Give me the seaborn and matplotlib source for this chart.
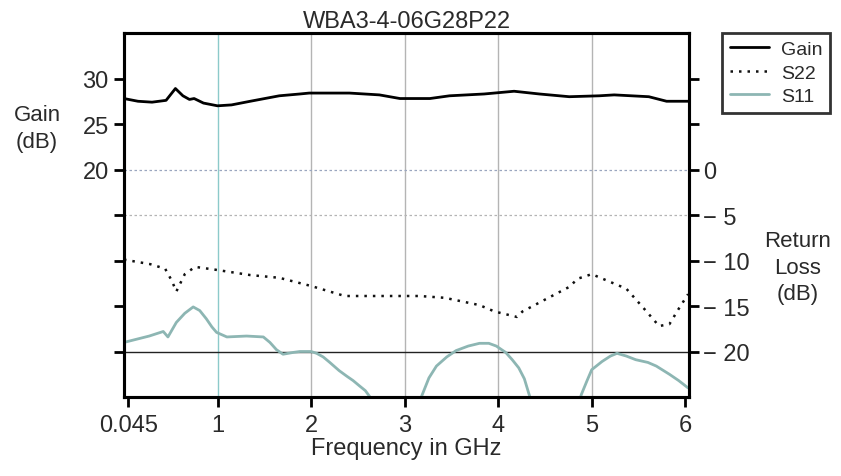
import numpy as np
import pandas as pd
import matplotlib
matplotlib.use("Agg")
import matplotlib.pyplot as plt
import seaborn as sns

# values
gain_freq = [0.0, 0.15, 0.3, 0.45, 0.55, 0.63, 0.7, 0.75, 0.85, 1.0, 1.15, 1.35, 1.66, 1.88,
             1.98, 2.41, 2.73, 2.95, 3.27, 3.48, 3.85, 4.17, 4.44, 4.76, 5.08, 5.24, 5.61,
             5.8, 6.03]
gain_db = [27.8, 27.5, 27.4, 27.6, 28.9, 28.1, 27.7, 27.8, 27.3, 27.0, 27.1, 27.5, 28.1, 28.3,
           28.4, 28.4, 28.2, 27.8, 27.8, 28.1, 28.3, 28.6, 28.3, 28.0, 28.1, 28.2, 28.0,
           27.5, 27.5]

s22_freq = [0.0, 0.28, 0.44, 0.51, 0.56, 0.65, 0.76, 0.97, 1.35, 1.66, 2.0, 2.36, 2.73, 3.16,
            3.43, 3.8, 3.96, 4.2, 4.26, 4.5, 4.76, 4.85, 5.0, 5.37, 5.56, 5.72, 5.83, 5.93, 6.03]
s22_db = [-9.9, -10.4, -10.9, -12.2, -13.4, -11.5, -10.7, -11.0, -11.6, -11.9, -12.8, -13.9,
          -13.9, -13.9, -14.1, -14.9, -15.6, -16.2, -15.6, -14.3, -12.9, -12.0, -11.5, -13.1,
          -15.3, -17.2, -17.0, -15.3, -13.7]

s11_freq = [0.0, 0.27, 0.42, 0.47, 0.56, 0.65, 0.74, 0.81, 0.88, 0.94, 0.99, 1.1, 1.31, 1.49,
            1.56, 1.63, 1.7, 1.81, 1.88, 2.0, 2.06, 2.13, 2.2, 2.3, 2.38, 2.45, 2.52, 2.58,
            2.63, 2.72, 3.1, 3.19, 3.26, 3.34, 3.45, 3.55, 3.68, 3.8, 3.9, 3.98, 4.08, 4.15,
            4.22, 4.28, 4.33, 4.4, 4.82, 4.89, 4.95, 5.0, 5.11, 5.2, 5.27, 5.37, 5.47, 5.6,
            5.69, 5.83, 5.93, 6.03]
s11_db = [-19.0, -18.3, -17.8, -18.4, -16.8, -15.8, -15.1, -15.5, -16.4, -17.3, -17.9, -18.4,
          -18.3, -18.4, -19.0, -19.8, -20.3, -20.1, -20.0, -20.0, -20.2, -20.6, -21.2, -22.1,
          -22.7, -23.2, -23.8, -24.3, -25.0, -27.0, -27.0, -24.7, -22.9, -21.6, -20.6, -19.9,
          -19.4, -19.1, -19.1, -19.4, -20.1, -20.9, -21.8, -23.0, -24.7, -27.0, -27.0, -24.7,
          -23.2, -22.0, -21.1, -20.5, -20.2, -20.5, -20.9, -21.2, -21.6, -22.5, -23.2, -24.0]

x_ticks = [0.045, 1, 2, 3, 4, 5, 6]
x_labels = ["0.045", "1", "2", "3", "4", "5", "6"]
gain_ticks = [0, 5, 10, 15, 20, 25, 30]
gain_labels = ["", "", "", "", "20", "25", "30"]
rl_ticks = [-20, -15, -10, -5, 0, 5, 10]
rl_labels = ["\u2212 20", "\u2212 15", "\u2212 10", "\u2212 5", "0", "", ""]

gain = pd.DataFrame({"freq": gain_freq, "db": gain_db})
s22 = pd.DataFrame({"freq": s22_freq, "db": s22_db})
s11 = pd.DataFrame({"freq": s11_freq, "db": s11_db})

sns.set_style("white")
plt.rcParams["font.family"] = ["Liberation Sans", "DejaVu Sans"]
text_col = "#2a2a2a"

fig = plt.figure(figsize=(8.41, 4.77), dpi=100)
ax = fig.add_axes([0.1474, 0.1656, 0.6719, 0.7631])
ax2 = ax.twinx()

# grid
for xv in [1, 2, 3, 4, 5]:
    ax.axvline(xv, color="#8ccaca" if xv == 1 else "#b4b4b4", lw=1.0, zorder=0)
ax.axhline(20, color="#9aa6bf", lw=0.9, ls=(0, (2, 2)), zorder=0)
ax.axhline(15, color="#b4b4b4", lw=0.9, ls=(0, (2, 2)), zorder=0)
ax.axhline(0, color="#222222", lw=1.0, zorder=0)

sns.lineplot(data=gain, x="freq", y="db", ax=ax, color="black", lw=2.0, label="Gain",
             legend=False)
sns.lineplot(data=s22, x="freq", y="db", ax=ax2, color="#111111", lw=1.8,
             ls=(0, (1, 2.4)), label="S22", legend=False)
sns.lineplot(data=s11, x="freq", y="db", ax=ax2, color="#8db6b3", lw=2.0, label="S11",
             legend=False)

ax.set_xlim(0.0, 6.04)
ax.set_ylim(-5, 35)
ax2.set_ylim(-25, 15)

ax.set_xticks(x_ticks)
ax.set_xticklabels(x_labels)
ax.set_yticks(gain_ticks)
ax.set_yticklabels(gain_labels)
ax2.set_yticks(rl_ticks)
ax2.set_yticklabels(rl_labels)

ax.set_xlabel("Frequency in GHz", fontsize=17, color=text_col, labelpad=1)
ax.set_ylabel("")
ax2.set_ylabel("")
ax.set_title("WBA3-4-06G28P22", fontsize=17, color=text_col, pad=4)

for a in (ax, ax2):
    for sp in a.spines.values():
        sp.set_visible(True)
        sp.set_color("black")
        sp.set_linewidth(2.2)
ax.tick_params(axis="both", which="major", direction="out", length=7, width=2,
               color="black", labelsize=17, labelcolor=text_col, pad=4)
ax.tick_params(axis="x", bottom=True, pad=5)
ax.tick_params(axis="y", left=True)
ax2.tick_params(axis="y", direction="out", length=7, width=2, color="black",
                labelsize=17, labelcolor=text_col, right=True, pad=3)

fig.text(0.044, 0.73, "Gain\n(dB)", ha="center", va="center", fontsize=16,
         color=text_col, linespacing=1.35)
fig.text(0.948, 0.438, "Return\nLoss\n(dB)", ha="center", va="center", fontsize=16,
         color=text_col, linespacing=1.35)

# legend outside the axes, top right
h1 = [l for l in ax.get_lines() if l.get_label() == "Gain"]
h2 = [l for l in ax2.get_lines() if l.get_label() in ("S22", "S11")]
leg = fig.legend(h1 + h2, ["Gain", "S22", "S11"], loc="upper left",
                 bbox_to_anchor=(0.859, 0.929), fontsize=14, fancybox=False,
                 frameon=True, handlelength=2.0, handletextpad=0.6, borderpad=0.4,
                 labelspacing=0.3, borderaxespad=0)
leg.get_frame().set_edgecolor("black")
leg.get_frame().set_linewidth(2.0)
for t in leg.get_texts():
    t.set_color(text_col)

fig.savefig("out.png", dpi=100)
